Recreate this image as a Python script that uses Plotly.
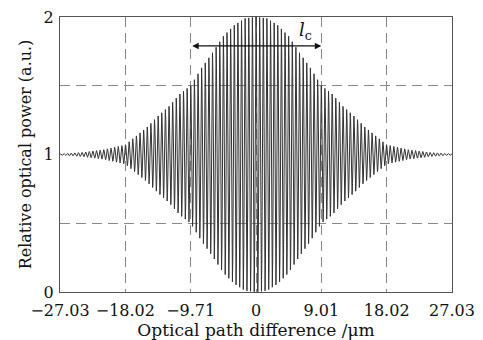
import numpy as np
import plotly.graph_objects as go

# Envelope of the interference fringes
env_x = [-27.03, -24.0, -21.0, -18.02, -15.0, -13.5, -12.0, -10.5, -9.01, -7.5, -6.0, -4.5, -3.0, -1.5, 0.0,
         1.5, 3.0, 4.5, 6.0, 7.5, 9.01, 10.5, 12.0, 13.5, 15.0, 18.02, 21.0, 24.0, 27.03]
env_a = [0.005, 0.015, 0.035, 0.07, 0.2, 0.28, 0.35, 0.44, 0.5, 0.63, 0.74, 0.86, 0.94, 0.99, 1.0,
         0.99, 0.94, 0.86, 0.74, 0.63, 0.5, 0.44, 0.35, 0.28, 0.2, 0.07, 0.035, 0.015, 0.005]
fringe_period = 0.5          # µm, counted from the picture
baseline = 1.0

x_tickvals = [-27.03, -18.02, -9.01, 0, 9.01, 18.02, 27.03]
x_ticktext = ["\u221227.03", "\u221218.02", "\u22129.71", "0", "9.01", "18.02", "27.03"]
y_tickvals = [0, 1, 2]
y_minor_grid = [0.5, 1.5]
lc_start, lc_end, lc_y = -9.01, 9.01, 1.79

x = np.arange(-27.03, 27.03 + 1e-9, 0.01)
amp = np.interp(x, env_x, env_a)
y = baseline + amp * np.cos(2 * np.pi * x / fringe_period)

font = "DejaVu Serif, serif"

fig = go.Figure()
fig.add_trace(go.Scatter(x=x, y=y, mode="lines",
                         line=dict(color="#333333", width=1), hoverinfo="skip", showlegend=False))

fig.add_annotation(x=lc_end, y=lc_y, ax=lc_start, ay=lc_y, xref="x", yref="y", axref="x", ayref="y",
                   showarrow=True, arrowhead=2, startarrowhead=2, arrowside="end+start",
                   arrowsize=1, arrowwidth=1.3, arrowcolor="#111", text="")
fig.add_annotation(x=6.8, y=1.9, xref="x", yref="y", showarrow=False,
                   text="<i>l</i><sub>c</sub>", font=dict(family=font, size=18, color="#111"))

grid = dict(showgrid=True, gridcolor="#8a8a8a", gridwidth=1, griddash="10px,6px")
fig.update_layout(
    width=475, height=332,
    margin=dict(l=52, r=31, t=9, b=48, autoexpand=False),
    paper_bgcolor="white", plot_bgcolor="white",
    font=dict(family=font, size=16, color="#111"),
    xaxis=dict(range=[-27.03, 27.03], tickvals=x_tickvals, ticktext=x_ticktext,
               showline=True, linecolor="#555", linewidth=1, mirror=True,
               ticks="", zeroline=False, automargin=False, ticklabelstandoff=4,
               ticklabeloverflow="allow",
               title=dict(text="Optical path difference /\u03bcm", standoff=0, font=dict(size=17)),
               **grid),
    yaxis=dict(range=[0, 2], tickvals=y_tickvals, showgrid=False, zeroline=False, automargin=False,
               showline=True, linecolor="#555", linewidth=1, mirror=True, ticks="",
               ticklabeloverflow="allow", ticklabelstandoff=2,
               minor=dict(tickvals=y_minor_grid, showgrid=True, gridcolor="#8a8a8a",
                          gridwidth=1, griddash="10px,6px", ticks=""),
               title=dict(text="Relative optical power (a.u.)", standoff=8, font=dict(size=16))),
)

fig.write_html("out.html")
